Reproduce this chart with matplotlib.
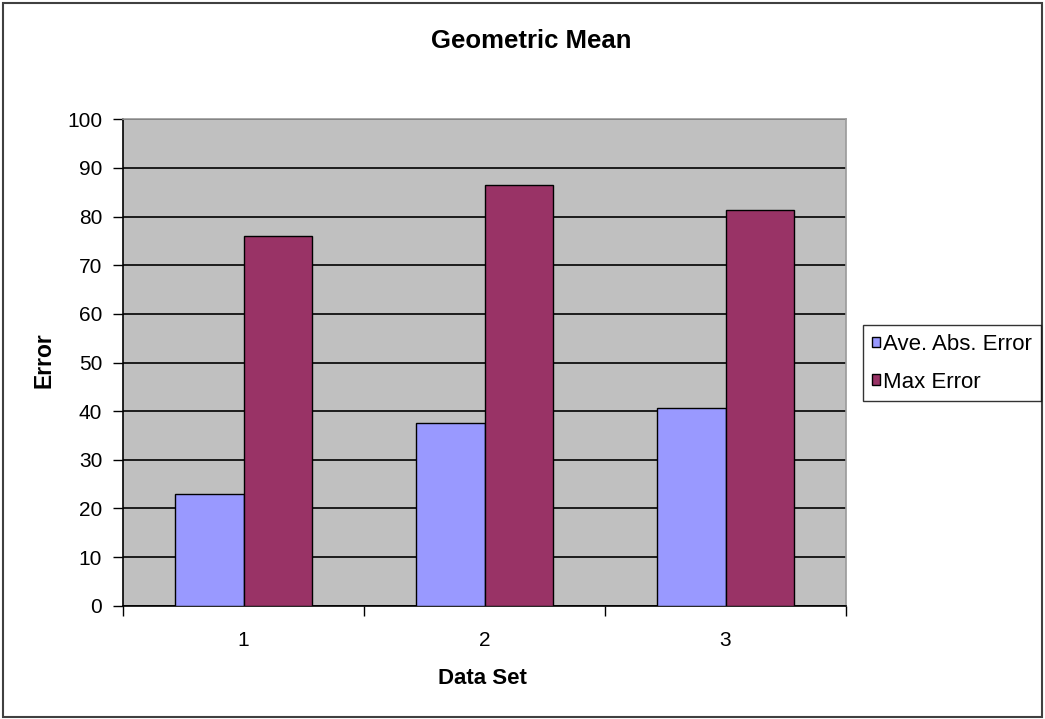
import matplotlib
matplotlib.use("Agg")
import matplotlib.pyplot as plt
from matplotlib.patches import Rectangle
import numpy as np

plt.rcParams['font.family'] = ['Liberation Sans', 'DejaVu Sans']

categories = ["1", "2", "3"]
series_names = ["Ave. Abs. Error", "Max Error"]
ave_abs_error = [23.0, 37.5, 40.7]
max_error = [76.0, 86.4, 81.3]
colors = ["#9999FF", "#993366"]
yticks = [0, 10, 20, 30, 40, 50, 60, 70, 80, 90, 100]

W, H = 1045, 719
fig = plt.figure(figsize=(W / 100, H / 100), dpi=100)
fig.patch.set_facecolor("white")

# outer chart border
fig.patches.append(Rectangle((3 / W, 2 / H), (W - 6) / W, (H - 5) / H,
                             transform=fig.transFigure, fill=False,
                             edgecolor="#404040", linewidth=1.5, zorder=0))

ax_l, ax_r, ax_t, ax_b = 123, 846, 119.3, 605.7
ax = fig.add_axes([ax_l / W, 1 - ax_b / H, (ax_r - ax_l) / W, (ax_b - ax_t) / H])
ax.set_facecolor("#C0C0C0")

x = np.arange(len(categories))
bw = 1 / 3.5
ax.bar(x - bw / 2, ave_abs_error, bw, color=colors[0], edgecolor="black",
       linewidth=1.0, label=series_names[0], zorder=3)
ax.bar(x + bw / 2, max_error, bw, color=colors[1], edgecolor="black",
       linewidth=1.0, label=series_names[1], zorder=3)

ax.set_xlim(-0.5, len(categories) - 0.5)
ax.set_ylim(0, 100)
ax.set_yticks(yticks)
ax.set_yticklabels([str(t) for t in yticks], fontsize=15)
ax.yaxis.grid(True, color="black", linewidth=1.2, zorder=1)
ax.set_axisbelow(True)

ax.set_xticks(np.arange(-0.5, len(categories) + 0.5, 1.0))
ax.set_xticklabels([])
ax.set_xticks(x, minor=True)
ax.set_xticklabels(categories, minor=True, fontsize=15)
ax.tick_params(axis="x", which="major", direction="out", length=7, width=1, color="black")
ax.tick_params(axis="x", which="minor", length=0, pad=18)
ax.tick_params(axis="y", direction="out", length=7, width=1, color="black", pad=8)

for s in ["top", "right"]:
    ax.spines[s].set_color("#9a9a9a")
    ax.spines[s].set_linewidth(1.2)
for s in ["left", "bottom"]:
    ax.spines[s].set_color("black")
    ax.spines[s].set_linewidth(1.2)

ax.set_xlabel("Data Set", fontsize=16, fontweight="bold")
ax.xaxis.set_label_coords((482 - ax_l) / (ax_r - ax_l), (ax_b - 678) / (ax_b - ax_t))
ax.xaxis.label.set_va("center")
ax.set_ylabel("Error", fontsize=16.5, fontweight="bold")
ax.yaxis.set_label_coords((43.5 - ax_l) / (ax_r - ax_l), (ax_b - 360) / (ax_b - ax_t))
ax.yaxis.label.set_va("center")

fig.text(531 / W, 1 - 40.5 / H, "Geometric Mean",
         ha="center", va="center", fontsize=18.5, fontweight="bold")

leg = fig.legend(loc="upper left", bbox_to_anchor=(863 / W, 1 - 325 / H),
                 fontsize=16, frameon=True, fancybox=False, edgecolor="black",
                 handlelength=0.35, handleheight=0.35, handletextpad=0.15,
                 borderpad=0.4, labelspacing=0.75, borderaxespad=0)
leg.get_frame().set_linewidth(1.0)

fig.savefig("out.png", dpi=100)
